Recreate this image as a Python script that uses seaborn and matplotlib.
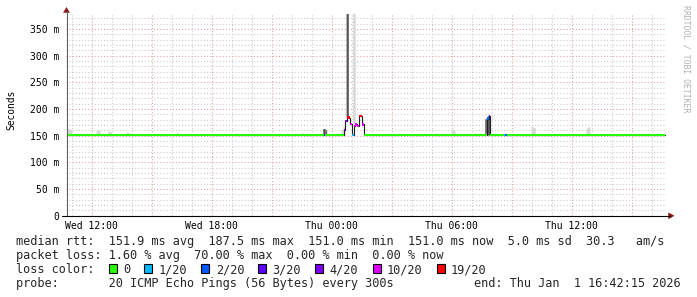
import numpy as np
import pandas as pd
import matplotlib
matplotlib.use("Agg")
import matplotlib.pyplot as plt
import matplotlib.dates as mdates
import matplotlib.ticker as mticker
from matplotlib.patches import Polygon, Rectangle
import seaborn as sns

# ---------------- data ----------------
window_start = "2025-12-31 10:42:15"
window_end = "2026-01-01 16:42:15"
first_row = "2025-12-31 10:45"
last_row = "2026-01-01 16:35"
step_minutes = 5
base_median = 0.1515          # seconds, median rtt when nothing happens

# rows with packet loss: time, median rtt (s), lost pings of 20
loss_times = ["2025-12-31 23:35", "2026-01-01 00:35", "2026-01-01 00:40",
              "2026-01-01 00:45", "2026-01-01 00:50", "2026-01-01 00:55",
              "2026-01-01 01:00", "2026-01-01 01:05", "2026-01-01 01:10",
              "2026-01-01 01:15", "2026-01-01 01:20", "2026-01-01 01:25",
              "2026-01-01 01:30", "2026-01-01 07:45", "2026-01-01 07:50",
              "2026-01-01 08:35", "2026-01-01 08:40"]
loss_medians = [0.1515, 0.161, 0.178,
                0.184, 0.184, 0.172,
                0.1515, 0.168, 0.171,
                0.168, 0.1875, 0.1875,
                0.171, 0.182, 0.187,
                0.1515, 0.1515]
loss_counts = [3, 3, 4,
               14, 14, 8,
               1, 8, 7,
               6, 12, 12,
               8, 2, 3,
               1, 2]

# smoke (spread of the 20 pings): time, low, high, shade
smoke_times = ["2025-12-31 10:50", "2025-12-31 10:55", "2025-12-31 12:15",
               "2025-12-31 12:20", "2025-12-31 12:50", "2025-12-31 12:55",
               "2025-12-31 13:45", "2025-12-31 13:50", "2025-12-31 16:15",
               "2025-12-31 22:30", "2025-12-31 23:35", "2025-12-31 23:40",
               "2026-01-01 00:30", "2026-01-01 00:35",
               "2026-01-01 00:45", "2026-01-01 01:05", "2026-01-01 06:00",
               "2026-01-01 06:05", "2026-01-01 07:20", "2026-01-01 07:40",
               "2026-01-01 07:45", "2026-01-01 07:50", "2026-01-01 10:00",
               "2026-01-01 10:05", "2026-01-01 11:20", "2026-01-01 12:45",
               "2026-01-01 12:50", "2026-01-01 13:50", "2026-01-01 15:50"]
smoke_low = [0.150, 0.150, 0.150,
             0.150, 0.150, 0.150,
             0.150, 0.150, 0.150,
             0.150, 0.150, 0.150,
             0.150, 0.150,
             0.184, 0.168, 0.150,
             0.150, 0.150, 0.151,
             0.151, 0.151, 0.150,
             0.150, 0.150, 0.150,
             0.150, 0.150, 0.150]
smoke_high = [0.162, 0.160, 0.159,
              0.158, 0.157, 0.156,
              0.155, 0.154, 0.154,
              0.154, 0.162, 0.160,
              0.160, 0.166,
              0.400, 0.400, 0.160,
              0.158, 0.153, 0.180,
              0.182, 0.187, 0.166,
              0.164, 0.153, 0.163,
              0.165, 0.153, 0.153]
smoke_shade = ["#d6d6d6", "#d6d6d6", "#d6d6d6",
               "#d6d6d6", "#d6d6d6", "#d6d6d6",
               "#d6d6d6", "#d6d6d6", "#d6d6d6",
               "#d6d6d6", "#555555", "#6a6a6a",
               "#d6d6d6", "#d6d6d6",
               "#555555", "#d6d6d6", "#d6d6d6",
               "#d6d6d6", "#d6d6d6", "#707070",
               "#555555", "#555555", "#d6d6d6",
               "#d6d6d6", "#d6d6d6", "#d6d6d6",
               "#d6d6d6", "#d6d6d6", "#d6d6d6"]

loss_levels = [0, 1, 2, 3, 4, 10, 19]
loss_colors = ["#26ff00", "#00b8ff", "#0059ff", "#5e00ff", "#7e00ff", "#dd00ff", "#ff0000"]
loss_labels = ["0", "1/20", "2/20", "3/20", "4/20", "10/20", "19/20"]

stats_rtt = "median rtt:  151.9 ms avg  187.5 ms max  151.0 ms min  151.0 ms now  5.0 ms sd  30.3   am/s"
stats_loss = "packet loss: 1.60 % avg  70.00 % max  0.00 % min  0.00 % now"
probe_text = "probe:       20 ICMP Echo Pings (56 Bytes) every 300s"
end_text = "end: Thu Jan  1 16:42:15 2026"
unit_label = "Seconds"
watermark = "RRDTOOL / TOBI OETIKER"

# ---------------- build table ----------------
rows = pd.date_range(first_row, last_row, freq=f"{step_minutes}min")
df = pd.DataFrame({"t": rows, "median": base_median, "loss": 0})
df = df.set_index("t")
for t, m, l in zip(pd.to_datetime(loss_times), loss_medians, loss_counts):
    df.loc[t, "median"] = m
    df.loc[t, "loss"] = l
df = df.reset_index()
df["x"] = mdates.date2num(df["t"])
step = step_minutes / 1440.0


def level_index(l):
    for i, lv in enumerate(loss_levels):
        if l <= lv:
            return i
    return len(loss_levels) - 1


df["cls"] = [level_index(l) for l in df["loss"]]

# ---------------- figure ----------------
W, H = 697, 297
sns.set_theme(style="white")
plt.rcParams["font.family"] = ["DejaVu Sans Mono", "DejaVu Sans"]
fig = plt.figure(figsize=(W / 100, H / 100), dpi=100)
fig.patch.set_facecolor("white")

y0_px, ytop_px, x0_px, x1_px = 215.7, 14.0, 66.0, 666.0
ax = fig.add_axes([x0_px / W, 1 - y0_px / H, (x1_px - x0_px) / W, (y0_px - ytop_px) / H])
ax.set_facecolor("white")
ymax = 0.350 * (y0_px - ytop_px) / (y0_px - 29.0)
ax.set_ylim(0, ymax)
ax.set_xlim(mdates.date2num(pd.Timestamp(window_start)), mdates.date2num(pd.Timestamp(window_end)))

# grid
ax.xaxis.set_major_locator(mdates.HourLocator(byhour=range(0, 24, 3)))
ax.xaxis.set_minor_locator(mdates.HourLocator())
ax.yaxis.set_major_locator(mticker.MultipleLocator(0.05))
ax.yaxis.set_minor_locator(mticker.MultipleLocator(0.01))
ax.set_axisbelow(True)
ax.grid(which="minor", color="#c8c8c8", linestyle=(0, (1, 2)), linewidth=0.75)
ax.grid(which="major", color="#e4a0a0", linestyle=(0, (1, 2)), linewidth=0.75)


def xfmt(v, pos=None):
    d = mdates.num2date(v)
    if d.hour % 6 == 0 and d.minute == 0:
        return d.strftime("%a %H:%M")
    return ""


ax.xaxis.set_major_formatter(mticker.FuncFormatter(xfmt))
ax.yaxis.set_major_formatter(mticker.FuncFormatter(
    lambda v, p: "0" if abs(v) < 1e-9 else f"{v * 1000:.0f} m"))
ax.tick_params(axis="both", which="both", length=0, labelsize=7, colors="black")
ax.tick_params(axis="y", pad=4.8)
ax.tick_params(axis="x", pad=3.5)
for s in ax.spines.values():
    s.set_visible(False)

# smoke
bars = ax.bar(mdates.date2num(pd.to_datetime(smoke_times)),
              np.array(smoke_high) - np.array(smoke_low), bottom=smoke_low,
              width=step, align="edge", color=smoke_shade, edgecolor=smoke_shade,
              linewidth=0.4, antialiased=True, zorder=2)
for b in bars:
    b.set_snap(False)

# thin dark median line
line_df = pd.DataFrame({"x": np.append(df["x"].values, df["x"].values[-1] + step),
                        "y": np.append(df["median"].values, df["median"].values[-1])})
sns.lineplot(data=line_df, x="x", y="y", drawstyle="steps-post", color="#202020",
             linewidth=0.8, estimator=None, sort=False, ax=ax, zorder=3)
ax.set_xlabel("")
ax.set_ylabel("")

# loss coloured median bands
sw = 0.00215
cls = df["cls"].values
xs = df["x"].values
med = df["median"].values
i = 0
n = len(df)
while i < n:
    j = i
    while j + 1 < n and cls[j + 1] == cls[i]:
        j += 1
    xx = np.append(xs[i:j + 1], xs[j] + step)
    yy = np.append(med[i:j + 1], med[j])
    ax.fill_between(xx, yy - sw, yy + sw, step="post", color=loss_colors[cls[i]],
                    linewidth=0, zorder=4)
    i = j + 1


# ---------------- axes lines and arrows (pixel coords) ----------------
def P(x, y):
    return (x / W, 1 - y / H)


arrow_col = "#8b1010"
fig.add_artist(plt.Line2D([P(66.5, 0)[0]] * 2, [P(0, 216)[1], P(0, 11)[1]],
                          color="#606060", linewidth=0.8))
fig.add_artist(plt.Line2D([P(62, 0)[0], P(670, 0)[0]], [P(0, 215.8)[1]] * 2,
                          color="black", linewidth=0.8))
fig.add_artist(Polygon([P(63.5, 12.5), P(69.5, 12.5), P(66.5, 7.5)], closed=True,
                       facecolor=arrow_col, edgecolor=arrow_col, linewidth=0.3))
fig.add_artist(Polygon([P(668.5, 212.8), P(668.5, 218.8), P(674, 215.8)], closed=True,
                       facecolor=arrow_col, edgecolor=arrow_col, linewidth=0.3))

# unit label and watermark
fig.text(*P(11.2, 109.5), unit_label, rotation=90, ha="center", va="center",
         fontsize=6.9, color="black")
fig.text(*P(686, 59), watermark, rotation=270, ha="center", va="center",
         fontsize=5.9, color="#b0b0b0")

# ---------------- legend text ----------------
fs = 8.53
cw = 7.13
tx = 16
baselines = [245.3, 259.3, 273.3, 287.3]
fig.text(*P(tx, baselines[0]), stats_rtt, fontsize=fs, ha="left", va="baseline")
fig.text(*P(tx, baselines[1]), stats_loss, fontsize=fs, ha="left", va="baseline")
loss_line = "loss color:"
fig.text(*P(tx, baselines[2]), loss_line, fontsize=fs, ha="left", va="baseline")
sq_idx = [13, 18, 26, 34, 42, 50, 59]
for k, (c, lab) in enumerate(zip(loss_colors, loss_labels)):
    sx = tx + sq_idx[k] * cw
    fig.add_artist(Rectangle(P(sx, baselines[2]), 8 / W, 9 / H, facecolor=c,
                             edgecolor="black", linewidth=0.8))
    fig.text(*P(sx + 2 * cw, baselines[2]), lab, fontsize=fs, ha="left", va="baseline")
fig.text(*P(tx, baselines[3]), probe_text, fontsize=fs, ha="left", va="baseline")
fig.text(*P(681, baselines[3]), end_text, fontsize=fs, ha="right", va="baseline")

fig.savefig("out.png", dpi=100, facecolor="white")
